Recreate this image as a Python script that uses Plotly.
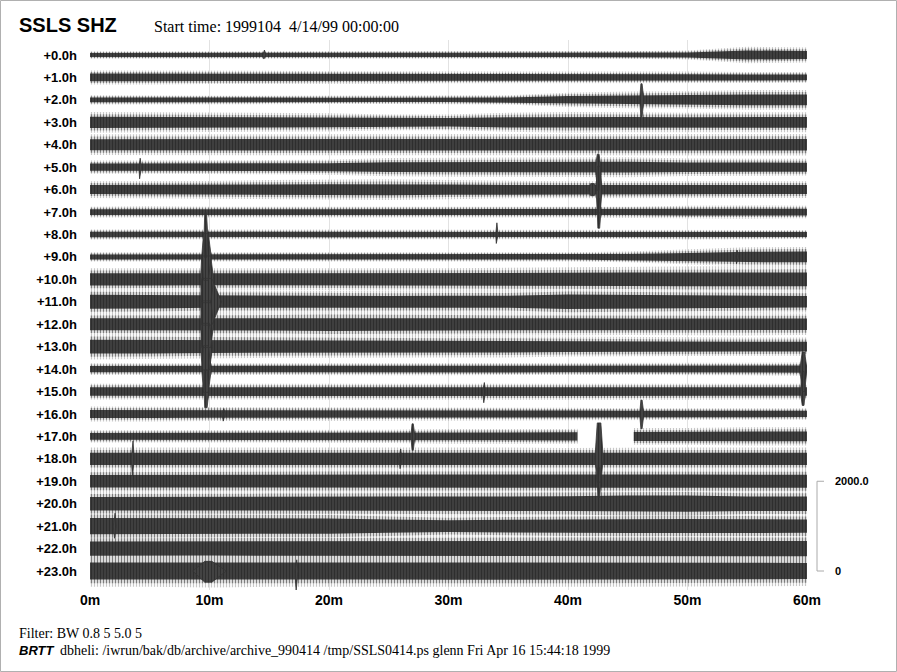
import plotly.graph_objects as go

# ---------------- data ----------------
station = "SSLS SHZ"
start_label = "Start time: 1999104\u00a0\u00a04/14/99 00:00:00"
hour_labels = ["+%d.0h" % h for h in range(24)]
minute_ticks = [0, 10, 20, 30, 40, 50, 60]
minute_labels = ["0m", "10m", "20m", "30m", "40m", "50m", "60m"]
row_offset = 500          # counts between successive hour traces
scale_bar = 2000.0        # counts

# envelope sample times (minutes) and background-noise half amplitude (counts) per hour
env_minutes = [0, 5, 10, 15, 20, 25, 30, 35, 40, 45, 50, 55, 60]
env_amp = [
    [45, 45, 45, 50, 45, 45, 45, 45, 45, 45, 55, 100, 90],
    [85, 85, 80, 80, 75, 75, 70, 70, 70, 70, 70, 65, 65],
    [55, 50, 50, 50, 50, 50, 50, 55, 85, 100, 105, 120, 120],
    [125, 120, 120, 115, 110, 95, 95, 115, 125, 120, 115, 120, 120],
    [125, 125, 130, 130, 130, 125, 130, 125, 130, 130, 130, 130, 130],
    [80, 80, 80, 85, 90, 110, 115, 115, 120, 120, 105, 100, 100],
    [100, 100, 105, 115, 120, 125, 115, 105, 100, 100, 100, 100, 100],
    [65, 70, 65, 65, 65, 65, 65, 65, 65, 65, 75, 80, 75],
    [60, 60, 55, 55, 60, 60, 60, 60, 55, 55, 60, 60, 55],
    [55, 55, 55, 50, 50, 55, 55, 55, 55, 65, 90, 115, 120],
    [135, 135, 130, 130, 130, 135, 135, 140, 145, 150, 155, 160, 155],
    [155, 150, 135, 130, 130, 130, 135, 135, 160, 150, 140, 135, 130],
    [135, 135, 135, 140, 150, 150, 140, 135, 135, 130, 130, 135, 130],
    [155, 150, 140, 135, 135, 135, 130, 130, 120, 115, 110, 110, 110],
    [70, 70, 70, 70, 70, 75, 75, 75, 70, 70, 70, 75, 80],
    [95, 95, 95, 95, 100, 100, 100, 100, 100, 100, 100, 100, 95],
    [90, 90, 85, 80, 80, 80, 80, 80, 75, 70, 70, 70, 70],
    [75, 75, 75, 75, 75, 80, 90, 90, 90, 100, 100, 110, 110],
    [135, 135, 135, 140, 140, 140, 135, 135, 130, 135, 135, 135, 135],
    [140, 145, 145, 145, 150, 150, 150, 145, 145, 150, 150, 145, 145],
    [150, 155, 155, 155, 155, 160, 160, 160, 165, 180, 180, 160, 160],
    [180, 180, 175, 170, 170, 150, 130, 140, 150, 155, 160, 155, 150],
    [160, 160, 155, 160, 160, 165, 165, 170, 175, 175, 175, 170, 170],
    [190, 190, 200, 190, 190, 190, 195, 190, 190, 190, 190, 185, 180],
]

# data gaps: (hour, start minute, end minute)
gaps = [(17, 40.8, 45.5)]

# transient arrivals: (hour, onset, peak start, peak end, end, amplitude up, amplitude down) [min, counts]
events = [
    (0, 14.45, 14.55, 14.6, 14.7, 110, 90),
    (2, 46.0, 46.1, 46.2, 46.35, 360, 380),
    (5, 4.1, 4.15, 4.2, 4.3, 200, 260),
    (5, 42.3, 42.45, 42.6, 42.75, 290, 520),
    (6, 41.7, 41.9, 42.2, 42.4, 135, 135),
    (6, 42.35, 42.45, 42.7, 42.85, 520, 520),
    (7, 42.45, 42.5, 42.65, 42.75, 300, 360),
    (8, 9.55, 9.6, 9.75, 9.85, 480, 520),
    (8, 33.95, 34.0, 34.05, 34.15, 260, 200),
    (9, 9.35, 9.5, 9.9, 10.15, 520, 520),
    (9, 54.05, 54.1, 54.15, 54.25, 150, 150),
    (10, 9.25, 9.35, 10.1, 10.35, 520, 520),
    (11, 9.25, 9.35, 10.2, 11.0, 520, 520),
    (12, 9.25, 9.35, 10.1, 10.35, 520, 520),
    (13, 9.25, 9.4, 10.0, 10.25, 520, 520),
    (14, 9.35, 9.5, 9.9, 10.15, 520, 520),
    (14, 59.4, 59.6, 59.8, 60.0, 380, 500),
    (15, 9.55, 9.6, 9.8, 9.95, 480, 360),
    (15, 32.85, 32.95, 33.0, 33.1, 200, 250),
    (15, 59.45, 59.6, 59.75, 59.85, 450, 310),
    (16, 11.05, 11.15, 11.2, 11.3, 120, 160),
    (16, 46.0, 46.1, 46.2, 46.35, 310, 330),
    (17, 26.85, 26.95, 27.05, 27.2, 280, 310),
    (18, 3.45, 3.55, 3.6, 3.7, 400, 380),
    (18, 25.85, 25.95, 26.0, 26.1, 220, 220),
    (18, 42.25, 42.45, 42.75, 42.95, 800, 520),
    (19, 42.45, 42.5, 42.65, 42.75, 300, 360),
    (21, 1.95, 2.05, 2.1, 2.2, 290, 270),
    (23, 8.6, 9.6, 10.2, 11.4, 215, 250),
    (23, 17.15, 17.25, 17.3, 17.4, 250, 445),
]

filter_text = "Filter: BW 0.8 5 5.0 5"
footer_text = "dbheli: /iwrun/bak/db/archive/archive_990414 /tmp/SSLS0414.ps glenn Fri Apr 16 15:44:18 1999"

# ---------------- layout constants ----------------
W, H = 897, 672
L, R, T, B = 90, 90, 40, 82
px_per_row = 22.435
cpx = row_offset / px_per_row
y_top = (55 - T) * cpx
y_bot = -(H - B - 55) * cpx

def band_trace(factor, fill, pattern):
    xs, ys = [], []
    for h, amps in enumerate(env_amp):
        c = -row_offset * h
        xs += env_minutes + env_minutes[::-1] + [None]
        ys += [c + a * factor for a in amps] + [c - a * factor for a in amps[::-1]] + [None]
    return go.Scatter(x=xs, y=ys, mode="lines", fill="toself", fillcolor=fill,
                      fillpattern=pattern,
                      line=dict(width=0, color="rgba(0,0,0,0)"), hoverinfo="skip", showlegend=False)

fig = go.Figure()
fig.add_trace(band_trace(1.85, "rgba(0,0,0,0)",
                         dict(shape="|", fgcolor="#8f8f8f", size=3, solidity=0.4)))
fig.add_trace(band_trace(1.45, "rgba(0,0,0,0)",
                         dict(shape="|", fgcolor="#333333", size=3, solidity=0.55)))
fig.add_trace(band_trace(1.0, "#1a1a1a",
                         dict(shape="|", fgcolor="#111111", bgcolor="#4a4a4a", size=3, solidity=0.6)))

# gap masks
gx, gy = [], []
for h, t0, t1 in gaps:
    c = -row_offset * h
    top, bot = c + row_offset * 0.45, c - row_offset * 0.45
    gx += [t0, t1, t1, t0, t0, None]
    gy += [bot, bot, top, top, bot, None]
fig.add_trace(go.Scatter(x=gx, y=gy, mode="lines", fill="toself", fillcolor="white",
                         line=dict(width=0, color="white"), hoverinfo="skip", showlegend=False))

# events
ex, ey = [], []
for h, t0, p0, p1, t1, up, dn in events:
    c = -row_offset * h
    ex += [t0, p0, p1, t1, p1, p0, t0, None]
    ey += [c, c + up, c + up, c, c - dn, c - dn, c, None]
fig.add_trace(go.Scatter(x=ex, y=ey, mode="lines", fill="toself", fillcolor="#222222",
                         fillpattern=dict(shape="|", fgcolor="#0d0d0d", bgcolor="#505050", size=3, solidity=0.6),
                         line=dict(width=0.8, color="#333333"), hoverinfo="skip", showlegend=False))

# scale bar
yb0 = -row_offset * 23
yb1 = yb0 + scale_bar
xp = lambda px: (px - L) / (W - L - R)
fig.add_shape(type="line", xref="paper", yref="y", x0=xp(817), x1=xp(817), y0=yb0, y1=yb1,
              line=dict(color="#aaaaaa", width=1))
for yy in (yb0, yb1):
    fig.add_shape(type="line", xref="paper", yref="y", x0=xp(817), x1=xp(824), y0=yy, y1=yy,
                  line=dict(color="#aaaaaa", width=1))
fig.add_annotation(x=xp(833), y=yb1, xref="paper", yref="y", text="<b>%.1f</b>" % scale_bar,
                   showarrow=False, xanchor="left", yanchor="middle",
                   font=dict(family="Liberation Sans", size=11, color="black"))
fig.add_annotation(x=xp(833), y=yb0, xref="paper", yref="y", text="<b>0</b>",
                   showarrow=False, xanchor="left", yanchor="middle",
                   font=dict(family="Liberation Sans", size=11, color="black"))

# outer frame
yp = lambda py: 1 - (py - T) / (H - T - B)
fig.add_shape(type="rect", xref="paper", yref="paper", x0=xp(0.5), x1=xp(896.5), y0=yp(671.5), y1=yp(0.5),
              line=dict(color="#b0b0b0", width=1))

# texts
fig.add_annotation(x=xp(17), y=yp(25), xref="paper", yref="paper", text="<b>%s</b>" % station,
                   showarrow=False, xanchor="left", yanchor="middle",
                   font=dict(family="Liberation Sans", size=20, color="black"))
fig.add_annotation(x=xp(152), y=yp(26), xref="paper", yref="paper", text=start_label,
                   showarrow=False, xanchor="left", yanchor="middle",
                   font=dict(family="Liberation Serif", size=16, color="black"))
fig.add_annotation(x=xp(17), y=yp(633), xref="paper", yref="paper", text=filter_text,
                   showarrow=False, xanchor="left", yanchor="middle",
                   font=dict(family="Liberation Serif", size=14, color="black"))
fig.add_annotation(x=xp(17), y=yp(650), xref="paper", yref="paper", text="<b><i>BRTT</i></b>",
                   showarrow=False, xanchor="left", yanchor="middle",
                   font=dict(family="Liberation Sans", size=13, color="black"))
fig.add_annotation(x=xp(58), y=yp(650), xref="paper", yref="paper", text=footer_text,
                   showarrow=False, xanchor="left", yanchor="middle",
                   font=dict(family="Liberation Serif", size=14, color="black"))

fig.update_layout(
    width=W, height=H, margin=dict(l=L, r=R, t=T, b=B),
    paper_bgcolor="white", plot_bgcolor="white", showlegend=False,
    xaxis=dict(range=[0, 60], tickvals=minute_ticks, ticktext=["<b>%s</b>" % s for s in minute_labels],
               showgrid=True, gridcolor="#e2e2e2", gridwidth=1, zeroline=False, showline=False,
               ticks="", tickfont=dict(family="Liberation Sans", size=14, color="black"),
               fixedrange=True),
    yaxis=dict(range=[y_bot, y_top], tickvals=[-row_offset * h for h in range(24)],
               ticktext=["<b>%s</b>" % s for s in hour_labels], showgrid=False, zeroline=False,
               showline=False, ticks="", ticklabelstandoff=12,
               tickfont=dict(family="Liberation Sans", size=13, color="black"), fixedrange=True),
)

fig.write_html("out.html", config={"displayModeBar": False},
               post_script="document.body.style.margin='0px';document.body.style.overflow='hidden';")
